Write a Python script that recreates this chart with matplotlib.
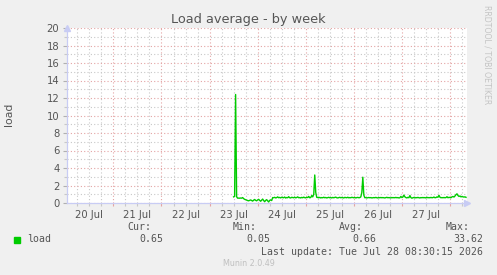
import matplotlib
matplotlib.use("Agg")
import matplotlib.pyplot as plt
import matplotlib.dates as mdates
from matplotlib.ticker import FixedLocator, FuncFormatter, MultipleLocator
import numpy as np
import datetime as dt

# ---------------- data ----------------
title = "Load average - by week"
y_label = "load"
series_name = "load"
x_start = dt.datetime(2026, 7, 20, 0, 50)
x_end = dt.datetime(2026, 7, 28, 8, 30)
data_end = dt.datetime(2026, 7, 28, 8, 0)
step_minutes = 30

load_values = [
    0.70, 0.75, 12.4, 0.72, 0.55, 0.56, 0.55, 0.57, 0.55, 0.62,
    0.50, 0.42, 0.38, 0.33, 0.28, 0.25, 0.30, 0.35, 0.28, 0.22,
    0.32, 0.40, 0.30, 0.25, 0.35, 0.42, 0.30, 0.20, 0.33, 0.45,
    0.28, 0.15, 0.30, 0.38, 0.25, 0.12, 0.30, 0.35, 0.28, 0.62,
    0.60, 0.65, 0.58, 0.62, 0.70, 0.60, 0.64, 0.58, 0.66, 0.62,
    0.60, 0.68, 0.57, 0.63, 0.60, 0.72, 0.60, 0.58, 0.65, 0.62,
    0.60, 0.66, 0.59, 0.63, 0.70, 0.60, 0.62, 0.58, 0.64, 0.60,
    0.67, 0.61, 0.59, 0.65, 0.62, 0.75, 0.60, 0.63, 0.85, 0.70,
    1.00, 3.20, 1.20, 0.65, 0.62, 0.60, 0.64, 0.58, 0.62, 0.60,
    0.66, 0.60, 0.63, 0.58, 0.62, 0.65, 0.60, 0.62, 0.58, 0.64,
    0.60, 0.63, 0.67, 0.60, 0.58, 0.62, 0.65, 0.60, 0.63, 0.60,
    0.58, 0.64, 0.62, 0.60, 0.66, 0.59, 0.62, 0.60, 0.65, 0.62,
    0.60, 0.63, 0.58, 0.62, 0.64, 0.60, 0.62, 0.70, 1.20, 2.95,
    0.90, 0.60, 0.62, 0.58, 0.60, 0.63, 0.60, 0.62, 0.58, 0.60,
    0.62, 0.60, 0.64, 0.60, 0.58, 0.62, 0.60, 0.63, 0.60, 0.62,
    0.60, 0.58, 0.62, 0.65, 0.60, 0.62, 0.60, 0.58, 0.63, 0.60,
    0.62, 0.60, 0.64, 0.60, 0.62, 0.58, 0.60, 0.75, 0.62, 0.68,
    0.90, 0.70, 0.62, 0.58, 0.65, 0.60, 0.85, 0.62, 0.55, 0.60,
    0.63, 0.58, 0.62, 0.60, 0.64, 0.60, 0.58, 0.62, 0.60, 0.63,
    0.60, 0.62, 0.58, 0.65, 0.60, 0.62, 0.60, 0.64, 0.60, 0.62,
    0.68, 0.60, 0.62, 0.70, 0.65, 0.88, 0.66, 0.60, 0.62, 0.60,
    0.63, 0.60, 0.62, 0.72, 0.60, 0.65, 0.62, 0.60, 0.70, 0.75,
    0.68, 0.80, 0.95, 1.05, 0.85, 0.75, 0.80, 0.70, 0.75, 0.70,
    0.68, 0.70, 0.65,
]

y_ticks = [0, 2, 4, 6, 8, 10, 12, 14, 16, 18, 20]
legend_headers = ["Cur:", "Min:", "Avg:", "Max:"]
legend_stats = ["0.65", "0.05", "0.66", "33.62"]
last_update = "Last update: Tue Jul 28 08:30:15 2026"
footer = "Munin 2.0.49"
side_text = "RRDTOOL / TOBI OETIKER"

# ---------------- style ----------------
BG = "#f0f0f0"
TXT = "#555555"
AXIS = "#c8ccf4"
GREEN = "#00cc00"
MAJ = "#e4a4a4"
MIN = "#c8c8c8"

W, H = 497, 275
fig = plt.figure(figsize=(W / 100, H / 100), dpi=100, facecolor=BG)
ax = fig.add_axes([67 / W, (H - 203) / H, 400 / W, 175 / H])
ax.set_facecolor("white")

n = len(load_values)
times = [data_end - dt.timedelta(minutes=step_minutes * (n - 1 - i)) for i in range(n)]
ax.plot(times, load_values, color=GREEN, lw=1.0, zorder=5)

ax.set_xlim(x_start, x_end)
ax.set_ylim(0, 20)

# y grid
ax.yaxis.set_major_locator(FixedLocator(y_ticks))
ax.yaxis.set_minor_locator(MultipleLocator(1))
ax.grid(which="major", axis="y", color=MAJ, linestyle=(0, (1, 2)), lw=0.8)
ax.grid(which="minor", axis="y", color=MIN, linestyle=(0, (1, 2)), lw=0.8)

# x grid: midnight major, 6h minor; labels at noon
ax.xaxis.set_major_locator(mdates.DayLocator())
ax.xaxis.set_minor_locator(mdates.HourLocator(byhour=[0, 6, 12, 18]))
ax.xaxis.set_major_formatter(FuncFormatter(lambda v, p: ""))

def minor_fmt(v, p):
    d = mdates.num2date(v)
    if d.hour == 12:
        return d.strftime("%d %b").lstrip("0")
    return ""

ax.xaxis.set_minor_formatter(FuncFormatter(minor_fmt))
ax.grid(which="major", axis="x", color=MAJ, linestyle=(0, (1, 2)), lw=0.8)
ax.grid(which="minor", axis="x", color=MIN, linestyle=(0, (1, 2)), lw=0.8)
ax.set_axisbelow(True)

ax.tick_params(axis="y", which="major", length=3, width=0.8, color="#b0b0b0",
               labelsize=7.2, labelcolor=TXT, pad=2.5)
ax.tick_params(axis="y", which="minor", length=2, width=0.8, color="#c8c8c8")
ax.tick_params(axis="x", which="major", length=2.5, width=0.8, color=MAJ)
ax.tick_params(axis="x", which="minor", length=2, width=0.8, color="#c8c8c8",
               labelsize=7.2, labelcolor=TXT, pad=3)

for s in ["top", "right"]:
    ax.spines[s].set_visible(False)
for s in ["left", "bottom"]:
    ax.spines[s].set_color(AXIS)
    ax.spines[s].set_linewidth(0.9)

# axis arrows
ax.plot([0], [1.0], marker="^", ms=5, color=AXIS, transform=ax.transAxes,
        clip_on=False, zorder=6, mec=AXIS)
ax.plot([1.0], [0], marker=">", ms=5, color=AXIS, transform=ax.transAxes,
        clip_on=False, zorder=6, mec=AXIS)

# titles
fig.text(248 / W, 1 - 19 / H, title, ha="center", va="center", fontsize=9.3,
         color=TXT, family="DejaVu Sans")
fig.text(9 / W, 1 - 114 / H, y_label, ha="center", va="center", rotation=90,
         fontsize=7.8, color=TXT)
fig.text(487.5 / W, 1 - 5 / H, side_text, ha="center", va="top", rotation=270,
         fontsize=5.6, color="#c4c4c4")

# legend
mono = "DejaVu Sans Mono"
fs = 7.1
fig.patches.append(plt.Rectangle((14 / W, 1 - 243 / H), 6 / W, 6 / H,
                                 transform=fig.transFigure, color=GREEN))
fig.text(27 / W, 1 - 239.5 / H, series_name, ha="left", va="center",
         family=mono, fontsize=fs, color=TXT)
hdr_right = [151, 257, 363, 470]
val_right = [163, 270, 376, 483]
for h, x in zip(legend_headers, hdr_right):
    fig.text(x / W, 1 - 227.5 / H, h, ha="right", va="center", family=mono,
             fontsize=fs, color=TXT)
for v, x in zip(legend_stats, val_right):
    fig.text(x / W, 1 - 239.5 / H, v, ha="right", va="center", family=mono,
             fontsize=fs, color=TXT)
fig.text(483 / W, 1 - 251.7 / H, last_update, ha="right", va="center",
         family=mono, fontsize=fs, color=TXT)
fig.text(249 / W, 1 - 263.5 / H, footer, ha="center", va="center",
         fontsize=5.8, color="#c0c0c0")

fig.savefig("out.png", dpi=100, facecolor=BG)
